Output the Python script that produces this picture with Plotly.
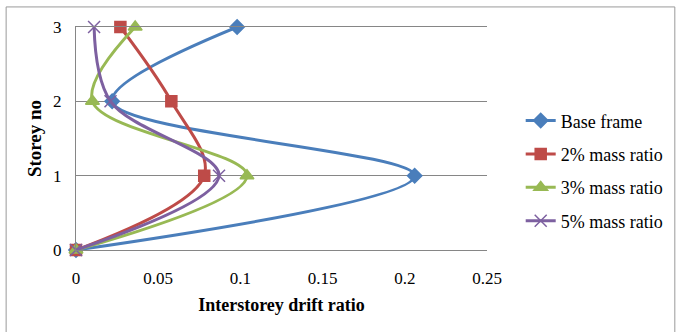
import plotly.graph_objects as go

# Storey levels and interstorey drift ratios for each case
storeys = [0, 1, 2, 3]
base_frame = [0.0, 0.206, 0.022, 0.098]
mass_2pct = [0.0, 0.078, 0.058, 0.027]
mass_3pct = [0.0, 0.104, 0.010, 0.036]
mass_5pct = [0.0, 0.087, 0.021, 0.011]

series_names = ["Base frame", "2% mass ratio", "3% mass ratio", "5% mass ratio"]
x_ticks = [0, 0.05, 0.1, 0.15, 0.2, 0.25]
x_tick_text = ["0", "0.05", "0.1", "0.15", "0.2", "0.25"]
y_ticks = [0, 1, 2, 3]

series = [
    (series_names[0], base_frame, "#4A7EBB", "diamond", 11),
    (series_names[1], mass_2pct, "#BE4B48", "square", 11),
    (series_names[2], mass_3pct, "#98B954", "triangle-up", 12),
    (series_names[3], mass_5pct, "#7D60A0", "x-thin-open", 12),
]

fig = go.Figure()
for i, (name, vals, color, symbol, size) in enumerate(series):
    fig.add_trace(go.Scatter(
        x=vals, y=storeys, name=name, mode="lines+markers",
        line=dict(color=color, width=3, shape="spline", smoothing=1.0),
        marker=dict(symbol=symbol, size=size, color=color,
                    line=dict(color=color, width=1.5)),
        legendgroup=f"g{i}", cliponaxis=False,
    ))

serif = "Liberation Serif"
grid = "#868686"

fig.update_layout(
    width=680, height=332,
    margin=dict(l=76, r=193, t=27, b=82),
    paper_bgcolor="white", plot_bgcolor="white",
    font=dict(family=serif, size=17, color="black"),
    showlegend=True,
    legend=dict(x=1.082, y=0.662, xanchor="left", yanchor="top",
                font=dict(family=serif, size=18, color="black"),
                tracegroupgap=7, itemwidth=30, bgcolor="rgba(0,0,0,0)"),
    xaxis=dict(range=[0, 0.25], tickvals=x_ticks, ticktext=x_tick_text,
               showgrid=False, zeroline=False,
               showline=True, mirror=True, linecolor=grid, linewidth=1,
               ticks="", tickfont=dict(family=serif, size=17), ticklabelstandoff=13,
               title=dict(text="<b>Interstorey drift ratio</b>",
                          font=dict(family=serif, size=18), standoff=10)),
    yaxis=dict(range=[0, 3], tickvals=y_ticks,
               showgrid=True, gridcolor=grid, gridwidth=1,
               zeroline=False, showline=True, linecolor=grid, linewidth=1,
               ticks="", tickfont=dict(family=serif, size=17), ticklabelstandoff=10,
               title=dict(text="<b>Storey no</b>",
                          font=dict(family=serif, size=19), standoff=6)),
)

# Outer chart frame
fig.add_shape(type="rect", xref="paper", yref="paper",
              x0=-0.170, x1=1.457, y0=-0.6, y1=1.090,
              line=dict(color="#9a9a9a", width=1), fillcolor="rgba(0,0,0,0)",
              layer="below")

fig.write_html("out.html")
